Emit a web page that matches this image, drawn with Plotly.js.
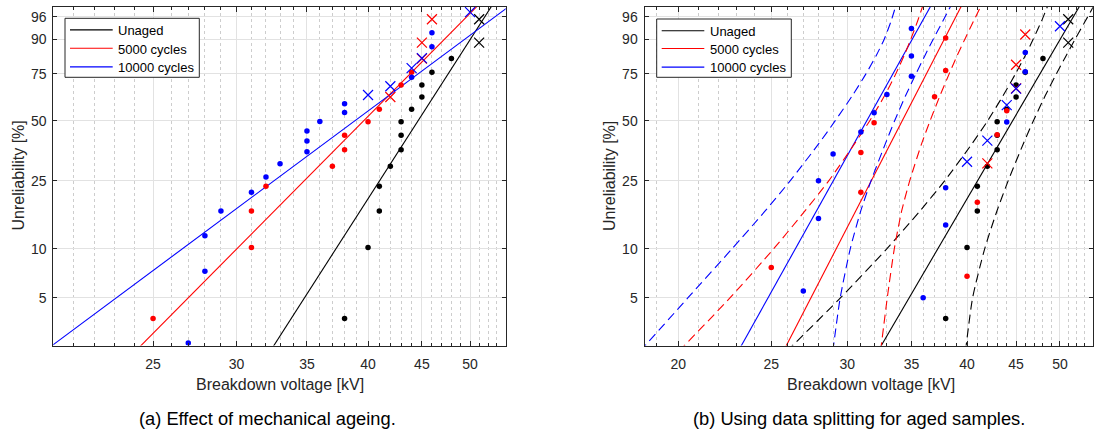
<!DOCTYPE html>
<html>
<head>
<meta charset="utf-8">
<script src="https://cdn.plot.ly/plotly-3.0.1.min.js"></script>
<style>html,body{margin:0;padding:0;background:#fff}</style>
</head>
<body>
<div id="chart" style="width:1094px;height:435px"></div>
<script>
// ---- Breakdown voltages [kV] and unreliability plotting positions [%] ----

// Unaged samples (same in both panels)
const unagedKV   = [38, 40, 41, 41, 42, 43, 43, 43, 44, 45, 45, 46, 48];
const unagedPct  = [3.7, 10.2, 16.8, 23.3, 29.9, 36.5, 43.0, 49.6, 56.1, 62.7, 69.2, 75.8, 82.4];
const unagedXKV  = [51, 51];
const unagedXPct = [88.9, 95.5];

// (a) 5000 cycles, all samples ranked together
const c5kKV   = [25, 31, 31, 32, 37, 38, 38, 40, 41, 43, 44];
const c5kPct  = [3.7, 10.2, 16.8, 23.3, 29.9, 36.5, 43.0, 49.6, 56.1, 69.2, 75.8];
const c5kXKV  = [42, 45, 45, 46];
const c5kXPct = [62.7, 82.4, 88.9, 95.5];

// (a) 10000 cycles, all samples ranked together
const c10kKV   = [27, 28, 28, 29, 31, 32, 33, 35, 35, 35, 36, 38, 38, 44, 46, 46];
const c10kPct  = [2.6, 7.3, 12.0, 16.8, 21.5, 26.2, 30.9, 35.6, 40.3, 45.0, 49.7, 54.4, 59.1, 73.2, 87.3, 92.1];
const c10kXKV  = [40, 42, 44, 45, 50];
const c10kXPct = [63.8, 68.5, 77.9, 82.6, 96.8];

// (b) 5000 cycles, weak and strong groups ranked separately
const split5kKV   = [25, 31, 31, 32, 37, 38, 38, 40, 41, 43, 44];
const split5kPct  = [7.7, 21.5, 35.3, 49.1, 62.9, 76.7, 90.5, 6.8, 18.9, 43.2, 55.3];
const split5kXKV  = [42, 45, 45, 46];
const split5kXPct = [31.0, 67.4, 79.5, 91.6];

// (b) 10000 cycles, weak and strong groups ranked separately
const split10kKV   = [27, 28, 28, 29, 31, 32, 33, 35, 35, 35, 36, 38, 38, 44, 46, 46];
const split10kPct  = [5.5, 15.2, 25.0, 34.7, 44.5, 54.2, 64.0, 73.8, 83.5, 93.3, 5.0, 13.9, 22.8, 49.4, 76.1, 85.0];
const split10kXKV  = [40, 42, 44, 45, 50];
const split10kXPct = [31.6, 40.5, 58.3, 67.2, 93.9];

// Weibull fits: scale [kV] and shape, order = unaged, 5000, 10000 cycles
const seriesNames  = ['Unaged', '5000 cycles', '10000 cycles'];
const seriesColors = ['#000000', '#ff0000', '#0000ff'];
const fitScaleA = [46.2, 41.8, 41.8];
const fitShapeA = [10.5, 6.8, 5.0];
const fitScaleB = [46.2, 35.3, 32.5];
const fitShapeB = [10.5, 11.9, 11.0];

// (b) confidence bounds: kV at each unreliability level
const boundPct    = [2.3, 5, 10, 16.7, 25, 39.1, 50, 63.2, 75, 83.8, 90, 95, 97.8];
const unagedLoKV  = [25.94, 29.53, 32.99, 35.69, 37.92, 40.49, 42.02, 43.59, 44.93, 46.01, 46.87, 47.81, 48.58];
const unagedHiKV  = [39.85, 40.54, 41.73, 42.96, 44.16, 45.79, 46.90, 48.24, 49.57, 50.76, 51.83, 53.10, 54.30];
const c5kLoKV     = [20.02, 22.65, 25.14, 27.08, 28.71, 30.54, 31.66, 32.80, 33.71, 34.40, 34.94, 35.51, 35.99];
const c5kHiKV     = [32.50, 33.03, 33.59, 34.18, 34.86, 35.87, 36.60, 37.47, 38.32, 39.07, 39.78, 40.61, 41.41];
const c10kLoKV    = [18.24, 20.47, 22.75, 24.61, 26.17, 28.02, 29.14, 30.35, 31.38, 32.17, 32.78, 33.32, 33.73];
const c10kHiKV    = [28.98, 29.50, 30.22, 30.98, 31.77, 32.88, 33.61, 34.50, 35.38, 36.16, 36.87, 37.72, 38.51];

// Axis ticks
const kvTicksA = [25, 30, 35, 40, 45, 50];
const kvTicksB = [20, 25, 30, 35, 40, 45, 50];
const pctTicks = [5, 10, 25, 50, 75, 90, 96];

// ---- helpers ----
const FONT = 'Liberation Sans, Arial, Helvetica, sans-serif';
const INK = '#262626';
const W = 1094, H = 435;

// Weibull probability scale: ln(-ln(1 - F))
const wb = p => Math.log(-Math.log(1 - p / 100));

function fitLine(scale, shape, i, xa, ya) {
  const ws = [-4.3, 1.8];
  return {
    x: ws.map(w => scale * Math.exp(w / shape)), y: ws,
    mode: 'lines', line: {color: seriesColors[i], width: 1.1},
    name: seriesNames[i], xaxis: xa, yaxis: ya, showlegend: false, hoverinfo: 'skip'
  };
}
function bound(kv, i, xa, ya) {
  return {
    x: kv, y: boundPct.map(wb), mode: 'lines',
    line: {color: seriesColors[i], width: 1.1, dash: '9px,5px', shape: 'spline', smoothing: 0.6},
    xaxis: xa, yaxis: ya, showlegend: false, hoverinfo: 'skip'
  };
}
function dots(kv, pct, i, xa, ya) {
  return {
    x: kv, y: pct.map(wb), mode: 'markers',
    marker: {symbol: 'circle', size: 5.5, color: seriesColors[i]},
    xaxis: xa, yaxis: ya, showlegend: false, hoverinfo: 'skip'
  };
}
function crosses(kv, pct, i, xa, ya) {
  return {
    x: kv, y: pct.map(wb), mode: 'markers',
    marker: {symbol: 'x-thin', size: 10, color: seriesColors[i], line: {color: seriesColors[i], width: 1.2}},
    xaxis: xa, yaxis: ya, showlegend: false, hoverinfo: 'skip'
  };
}
function intRange(a, b) {
  const out = [];
  for (let v = a; v <= b; v++) if (v % 5 !== 0) out.push(v);
  return out;
}

const traces = [];
// panel (a)
for (let i = 0; i < 3; i++) traces.push(fitLine(fitScaleA[i], fitShapeA[i], i, 'x', 'y'));
traces.push(dots(unagedKV, unagedPct, 0, 'x', 'y'), crosses(unagedXKV, unagedXPct, 0, 'x', 'y'));
traces.push(dots(c5kKV, c5kPct, 1, 'x', 'y'), crosses(c5kXKV, c5kXPct, 1, 'x', 'y'));
traces.push(dots(c10kKV, c10kPct, 2, 'x', 'y'), crosses(c10kXKV, c10kXPct, 2, 'x', 'y'));
// panel (b)
for (let i = 0; i < 3; i++) traces.push(fitLine(fitScaleB[i], fitShapeB[i], i, 'x2', 'y2'));
traces.push(bound(unagedLoKV, 0, 'x2', 'y2'), bound(unagedHiKV, 0, 'x2', 'y2'));
traces.push(bound(c5kLoKV, 1, 'x2', 'y2'), bound(c5kHiKV, 1, 'x2', 'y2'));
traces.push(bound(c10kLoKV, 2, 'x2', 'y2'), bound(c10kHiKV, 2, 'x2', 'y2'));
traces.push(dots(unagedKV, unagedPct, 0, 'x2', 'y2'), crosses(unagedXKV, unagedXPct, 0, 'x2', 'y2'));
traces.push(dots(split5kKV, split5kPct, 1, 'x2', 'y2'), crosses(split5kXKV, split5kXPct, 1, 'x2', 'y2'));
traces.push(dots(split10kKV, split10kPct, 2, 'x2', 'y2'), crosses(split10kXKV, split10kXPct, 2, 'x2', 'y2'));

function xAxis(ticks, lo, hi, minorVals, dom, anchor) {
  return {
    type: 'log', domain: dom, anchor: anchor,
    range: [Math.log10(lo), Math.log10(hi)],
    tickmode: 'array', tickvals: ticks, ticktext: ticks.map(String),
    showline: true, linecolor: INK, linewidth: 1, mirror: 'ticks',
    ticks: 'inside', ticklen: 5, tickcolor: INK, tickwidth: 1,
    ticklabelstandoff: 6,
    showgrid: true, gridcolor: '#e2e2e2', gridwidth: 1, zeroline: false,
    tickfont: {family: FONT, size: 14, color: INK},
    minor: {tickmode: 'array', tickvals: minorVals, ticks: 'inside', ticklen: 3,
            tickcolor: INK, tickwidth: 1, showgrid: true, gridcolor: '#cdcdcd',
            griddash: 'dot', gridwidth: 1},
    fixedrange: true
  };
}
function yAxis(dom, anchor) {
  return {
    type: 'linear', domain: dom, anchor: anchor,
    range: [-3.674, 1.319],
    tickmode: 'array', tickvals: pctTicks.map(wb), ticktext: pctTicks.map(String),
    showline: true, linecolor: INK, linewidth: 1, mirror: 'ticks',
    ticks: 'inside', ticklen: 4, tickcolor: INK, tickwidth: 1,
    ticklabelstandoff: 3,
    showgrid: true, gridcolor: '#e2e2e2', gridwidth: 1, zeroline: false,
    tickfont: {family: FONT, size: 14, color: INK},
    fixedrange: true
  };
}
const yDom = [1 - 345.5 / H, 1 - 6.5 / H];

function note(text, px, py, size, opts) {
  return Object.assign({
    text: text, xref: 'paper', yref: 'paper', x: px / W, y: 1 - py / H,
    xanchor: 'center', yanchor: 'middle', showarrow: false,
    font: {family: FONT, size: size, color: INK}
  }, opts || {});
}

// Boxed key: frame, colour swatches and entry labels
const shapes = [];
const annotations = [];
function key(x0, y0, x1, y1, rows, lineX0, lineX1, textX) {
  shapes.push({type: 'rect', xref: 'paper', yref: 'paper',
    x0: x0 / W, x1: x1 / W, y0: 1 - y0 / H, y1: 1 - y1 / H,
    line: {color: INK, width: 1}, fillcolor: '#ffffff', layer: 'above'});
  rows.forEach((ry, i) => {
    shapes.push({type: 'line', xref: 'paper', yref: 'paper',
      x0: lineX0 / W, x1: lineX1 / W, y0: 1 - (ry - 0.8) / H, y1: 1 - (ry - 0.8) / H,
      line: {color: seriesColors[i], width: 1.1}, layer: 'above'});
    annotations.push(note(seriesNames[i], textX, ry, 13,
      {xanchor: 'left', font: {family: FONT, size: 13, color: '#000'}}));
  });
}
key(65, 18.3, 199.3, 77.3, [30.7, 49.0, 67.7], 70, 112.7, 115.5);
key(656.7, 19, 791.3, 77.3, [31.5, 49.3, 67.9], 661.7, 704.3, 707.8);

annotations.push(
  note('Breakdown voltage [kV]', 279.5, 384, 16),
  note('Breakdown voltage [kV]', 870.8, 384, 16),
  note('Unreliability [%]', 17.5, 176, 16, {textangle: -90}),
  note('Unreliability [%]', 609, 176, 16, {textangle: -90}),
  note('(a) Effect of mechanical ageing.', 267.8, 418, 18.3, {font: {family: FONT, size: 18.3, color: '#000'}}),
  note('(b) Using data splitting for aged samples.', 859, 418, 18.3, {font: {family: FONT, size: 18.3, color: '#000'}})
);

const layout = {
  width: W, height: H,
  margin: {l: 0, r: 0, t: 0, b: 0},
  paper_bgcolor: '#ffffff', plot_bgcolor: '#ffffff',
  showlegend: false, hovermode: false,
  xaxis:  xAxis(kvTicksA, 20.1, 54.05, intRange(21, 54), [53.3 / W, 505.7 / W], 'y'),
  yaxis:  yAxis(yDom, 'x'),
  xaxis2: xAxis(kvTicksB, 18.44, 54.1, intRange(19, 54), [644.5 / W, 1092.8 / W], 'y2'),
  yaxis2: yAxis(yDom, 'x2'),
  shapes: shapes,
  annotations: annotations
};

Plotly.newPlot('chart', traces, layout, {staticPlot: true, displayModeBar: false});
</script>
</body>
</html>
